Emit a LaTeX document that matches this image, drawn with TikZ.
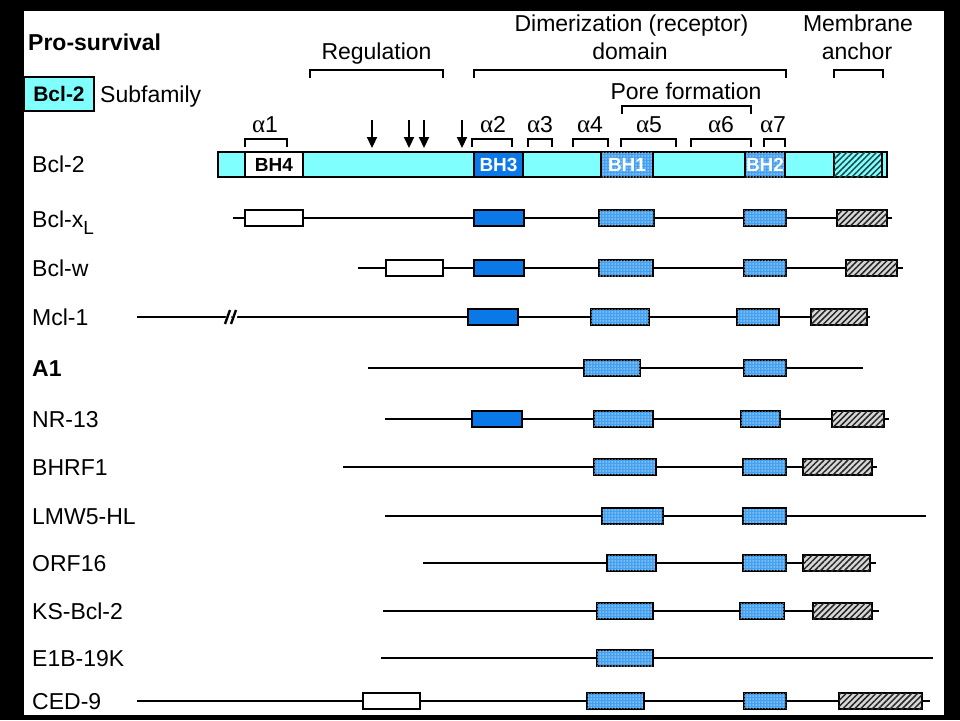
\documentclass[tikz,border=0pt]{standalone}
\usepackage{fontspec}
\setmainfont{Liberation Sans}
\newfontfamily\grk{Liberation Serif}
\usetikzlibrary{patterns.meta,arrows.meta}
\definecolor{cyanf}{RGB}{128,255,255}
\definecolor{bhblue}{RGB}{10,120,230}
\definecolor{dotb}{RGB}{70,160,240}
\definecolor{dotw}{RGB}{185,225,255}
\definecolor{hgray}{RGB}{215,215,215}
\definecolor{hteal}{RGB}{30,70,70}
\newcommand\bhfont{\bfseries\fontsize{19}{19}\selectfont}
\newcommand\alp{{\grk\fontsize{25}{26}\selectfont α}}
\newcommand\dom[5]{\node[#1, minimum width={(#3-#2)*1pt}] (#5) at ({(#2+#3)/2},#4) {};}
\newcommand\bseg[5]{\node[#1, minimum width={(#3-#2)*1pt}, minimum height=25pt] (#4) at ({(#2+#3)/2},164.5) {#5};}
\newcommand\brk[4]{\draw[brk] (#1,#4) |- (#2,#3) -- (#2,#4);}
\begin{document}
\begin{tikzpicture}[x=1pt,y=-1pt,
  seg/.style={draw, line width=2pt, inner sep=0pt, outer sep=0pt, minimum height=16pt},
  wbox/.style={seg, fill=white},
  bbox/.style={seg, fill=bhblue},
  dbox/.style={seg, fill=dotb, postaction={pattern={Dots[distance=3pt, radius=0.75pt]}, pattern color=dotw}},
  hbox/.style={seg, fill=hgray, postaction={pattern={Lines[angle=45,distance=4.2pt,line width=1.5pt]}, pattern color=black!85}},
  cseg/.style={seg, fill=cyanf},
  htseg/.style={seg, fill=cyanf, postaction={pattern={Lines[angle=45,distance=4.2pt,line width=1.5pt]}, pattern color=hteal}},
  bhtxt/.style={font=\bhfont},
  backbone/.style={line width=2.8pt},
  brk/.style={line width=2.3pt},
  lbl/.style={anchor=base west, inner sep=0pt, font=\fontsize{23}{26}\selectfont},
  hd/.style={anchor=base, inner sep=0pt, font=\fontsize{23}{26}\selectfont},
  al/.style={anchor=base, inner sep=0pt, font=\fontsize{23}{26}\selectfont},
  arr/.style={line width=2.2pt, -{Triangle[length=11pt,width=10pt]}}
]
% frame
\fill[black] (0,0) rectangle (960,720);
\fill[white] (24,11) rectangle (944,715);
\useasboundingbox (0,0) rectangle (960,720);

% headings
\node[lbl, font=\bfseries\fontsize{23}{26}\selectfont] (pro) at (28,50) {Pro-survival};
\node[draw, line width=2pt, fill=cyanf, minimum width=70pt, minimum height=34pt, inner sep=0pt, font=\bfseries\fontsize{21}{24}\selectfont] (leg) at (59,94) {Bcl-2};
\node[lbl] (subf) at (100,102) {Subfamily};
\node[hd] (reg) at (376.5,59) {Regulation};
\node[hd] (dim) at (631.5,31) {Dimerization (receptor)};
\node[hd] (dom) at (630,59) {domain};
\node[hd] (mem) at (858,31) {Membrane};
\node[hd] (anc) at (857,59) {anchor};
\node[hd] (pore) at (686,99) {Pore formation};

% brackets
\brk{310}{443}{70}{78}
\brk{474}{786}{70}{78}
\brk{834}{883}{70}{78}
\brk{622}{751}{106}{114}
\brk{245}{287}{139}{147}
\brk{472}{512}{139}{147}
\brk{528}{552}{139}{147}
\brk{573}{608}{139}{147}
\brk{621}{676}{139}{147}
\brk{691}{751}{139}{147}
\brk{764}{785}{139}{147}

% alpha labels
\node[al] (a1) at (265,132) {\alp1};
\node[al] (a2) at (493,132) {\alp2};
\node[al] (a3) at (540,132) {\alp3};
\node[al] (a4) at (590,132) {\alp4};
\node[al] (a5) at (649,132) {\alp5};
\node[al] (a6) at (721,132) {\alp6};
\node[al] (a7) at (773,132) {\alp7};

% arrows
\coordinate (p1a) at (372,120); \coordinate (p1b) at (372,148);
\coordinate (p2a) at (409,120); \coordinate (p2b) at (409,148);
\coordinate (p3a) at (424,120); \coordinate (p3b) at (424,148);
\coordinate (p4a) at (462,120); \coordinate (p4b) at (462,148);
\draw[arr] (p1a) -- (p1b);
\draw[arr] (p2a) -- (p2b);
\draw[arr] (p3a) -- (p3b);
\draw[arr] (p4a) -- (p4b);

% Bcl-2 bar
\node[lbl] (l0) at (32,172) {Bcl-2};
\bseg{cseg}{218}{245}{b0}{}
\bseg{wbox}{245}{303}{b1}{\bhfont BH4}
\bseg{cseg}{303}{474}{b2}{}
\bseg{bbox}{474}{523}{b3}{\bhfont\color{white}BH3}
\bseg{cseg}{523}{601}{b4}{}
\bseg{dbox}{601}{653}{b5}{}
\node[bhtxt, text=white] (t5) at (b5) {BH1};
\bseg{cseg}{653}{745}{b6}{}
\bseg{dbox}{745}{785}{b7}{}
\node[bhtxt, text=white] (t7) at (b7) {BH2};
\bseg{cseg}{785}{834}{b8}{}
\bseg{htseg}{834}{882}{b9}{}
\bseg{cseg}{882}{887}{b10}{}

% Bcl-xL
\node[lbl] (l1) at (32,227) {Bcl-x\raisebox{-7pt}{\fontsize{19}{19}\selectfont L}};
\coordinate (s1) at (233,218); \coordinate (e1) at (892,218);
\draw[backbone] (s1) -- (e1);
\dom{wbox}{245}{303}{218}{r1a}
\dom{bbox}{474}{524}{218}{r1b}
\dom{dbox}{599}{654}{218}{r1c}
\dom{dbox}{744}{786}{218}{r1d}
\dom{hbox}{837}{887}{218}{r1e}

% Bcl-w
\node[lbl] (l2) at (32,276.5) {Bcl-w};
\coordinate (s2) at (358,268); \coordinate (e2) at (903,268);
\draw[backbone] (s2) -- (e2);
\dom{wbox}{386}{443}{268}{r2a}
\dom{bbox}{474}{524}{268}{r2b}
\dom{dbox}{599}{653}{268}{r2c}
\dom{dbox}{744}{786}{268}{r2d}
\dom{hbox}{846}{897}{268}{r2e}

% Mcl-1
\node[lbl] (l3) at (32,325.5) {Mcl-1};
\coordinate (s3) at (137,317); \coordinate (e3) at (870,317);
\draw[backbone] (s3) -- (e3);
\draw[white, line width=5pt] (226,325) -- (231,309) (232,325) -- (237,309);
\draw[line width=2.4pt] (225,324) -- (230,310) (231,324) -- (236,310);
\dom{bbox}{468}{518}{317}{r3b}
\dom{dbox}{591}{649}{317}{r3c}
\dom{dbox}{737}{779}{317}{r3d}
\dom{hbox}{811}{867}{317}{r3e}

% A1
\node[lbl, font=\bfseries\fontsize{23}{26}\selectfont] (l4) at (32,376.5) {A1};
\coordinate (s4) at (368,368); \coordinate (e4) at (863,368);
\draw[backbone] (s4) -- (e4);
\dom{dbox}{584}{640}{368}{r4c}
\dom{dbox}{744}{786}{368}{r4d}

% NR-13
\node[lbl] (l5) at (32,427.5) {NR-13};
\coordinate (s5) at (385,419); \coordinate (e5) at (889,419);
\draw[backbone] (s5) -- (e5);
\dom{bbox}{472}{522}{419}{r5b}
\dom{dbox}{594}{653}{419}{r5c}
\dom{dbox}{741}{780}{419}{r5d}
\dom{hbox}{832}{884}{419}{r5e}

% BHRF1
\node[lbl] (l6) at (32,475.5) {BHRF1};
\coordinate (s6) at (343,467); \coordinate (e6) at (877,467);
\draw[backbone] (s6) -- (e6);
\dom{dbox}{594}{656}{467}{r6c}
\dom{dbox}{743}{786}{467}{r6d}
\dom{hbox}{803}{872}{467}{r6e}

% LMW5-HL
\node[lbl] (l7) at (32,524.5) {LMW5-HL};
\coordinate (s7) at (385,516); \coordinate (e7) at (926,516);
\draw[backbone] (s7) -- (e7);
\dom{dbox}{602}{663}{516}{r7c}
\dom{dbox}{743}{786}{516}{r7d}

% ORF16
\node[lbl] (l8) at (32,571.5) {ORF16};
\coordinate (s8) at (423,563); \coordinate (e8) at (876,563);
\draw[backbone] (s8) -- (e8);
\dom{dbox}{607}{656}{563}{r8c}
\dom{dbox}{743}{786}{563}{r8d}
\dom{hbox}{803}{870}{563}{r8e}

% KS-Bcl-2
\node[lbl] (l9) at (32,619.5) {KS-Bcl-2};
\coordinate (s9) at (383,611); \coordinate (e9) at (879,611);
\draw[backbone] (s9) -- (e9);
\dom{dbox}{597}{653}{611}{r9c}
\dom{dbox}{740}{784}{611}{r9d}
\dom{hbox}{813}{872}{611}{r9e}

% E1B-19K
\node[lbl] (l10) at (32,666.5) {E1B-19K};
\coordinate (s10) at (381,658); \coordinate (e10) at (933,658);
\draw[backbone] (s10) -- (e10);
\dom{dbox}{597}{653}{658}{r10c}

% CED-9
\node[lbl] (l11) at (32,709.5) {CED-9};
\coordinate (s11) at (137,701); \coordinate (e11) at (930,701);
\draw[backbone] (s11) -- (e11);
\dom{wbox}{363}{420}{701}{r11a}
\dom{dbox}{587}{644}{701}{r11c}
\dom{dbox}{744}{786}{701}{r11d}
\dom{hbox}{839}{922}{701}{r11e}
\end{tikzpicture}
\end{document}
